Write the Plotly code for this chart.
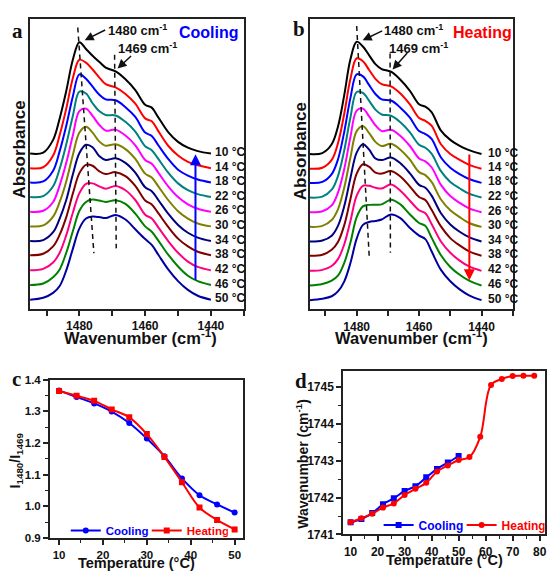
import plotly.graph_objects as go

FIG_W, FIG_H = 549, 573
FONT = "Liberation Sans, Arial, sans-serif"
SERIF = "Liberation Serif, Times New Roman, serif"


def px(x):
    return x / FIG_W


def py(y):
    return 1 - y / FIG_H


# ---------------- data: spectra (heights above each curve's own baseline) ----------------
wavenumber = [1495, 1491, 1488, 1486, 1484, 1482, 1480, 1478, 1476, 1474, 1472, 1469,
              1466, 1463, 1460, 1458, 1456, 1453, 1450, 1447, 1444, 1440]
spec_temps = [10, 14, 18, 22, 26, 30, 34, 38, 42, 46, 50]
spec_offsets = [159, 144, 129.5, 114.5, 99.5, 84.5, 69.5, 55, 39.5, 24.5, 9.5]
spec_colors = ["#000000", "#FF0000", "#0000FF", "#008080", "#FF00FF", "#808000",
               "#000080", "#800000", "#FF0080", "#008000", "#0000A0"]

# panel a (cooling)
cool_10 = [0, 1, 14, 36, 64, 96, 114, 107, 100, 94, 88, 84, 76, 65, 50, 47, 37, 22, 12, 6, 2.5, 0]
cool_14 = [0, 1, 13, 34, 61, 92, 111, 108, 101, 93, 86, 82.7, 76, 66, 51, 48, 38, 23, 13, 6.5, 3, 0]
cool_18 = [0, 1, 12, 32, 58, 88, 110.5, 106, 98, 90, 85, 84, 77, 67, 51, 47.5, 38, 24, 13, 7, 3, 0]
cool_22 = [0, 1, 11, 29, 54, 83, 108, 106, 96, 88, 84, 83.5, 77, 67, 52, 48, 39, 25, 14, 7, 3, 0]
cool_26 = [0, 1, 10, 27, 50, 78, 103, 105.5, 98, 89, 83, 84, 78, 68, 53, 49, 40, 26, 15, 7.5, 3, 0]
cool_30 = [0, 1, 10, 25, 46, 73, 96, 102, 96, 87, 82.5, 84, 79, 69, 54, 50, 41, 27, 15.5, 8, 3, 0]
cool_34 = [0, 1, 9, 23, 42, 68, 90, 98.5, 96, 87, 83, 84.7, 80, 70, 55, 51, 42, 28, 16.5, 8.5, 3.5, 0]
cool_38 = [0, 1.5, 9, 21, 39, 63, 84, 92.5, 91.5, 86, 83, 85, 81, 71, 56, 52, 43, 29, 17, 9, 3.5, 0]
cool_42 = [0, 1.5, 8, 18, 36, 59, 79, 88.5, 89, 86, 83.5, 86.4, 82, 72, 57, 53, 44, 30, 18, 9, 3.5, 0]
cool_46 = [0, 1.5, 8, 16, 33, 55, 76, 85, 87.4, 86.5, 85, 86.7, 83, 73, 60, 54.5, 45.5, 31, 19, 9.5, 4, 0]
cool_50 = [0, 2, 7, 14, 30, 52, 73, 83, 85, 84.5, 83.5, 86.7, 82, 72, 62, 56, 46, 31, 19, 10, 4, 0]

# panel b (heating)
heat_10 = [0, 1, 10, 28, 60, 97, 115, 110, 101, 92, 87, 84.3, 76, 65, 51, 48.5, 43, 24, 14.5, 8.5, 4, 0]
heat_14 = [0, 1, 9, 26, 56, 92, 113, 110, 101, 92, 86.5, 84.3, 77, 66, 52, 49, 44, 25, 15, 9, 4, 0]
heat_18 = [0, 1, 9, 24, 52, 87, 111, 109, 100, 91, 85.5, 84.3, 77, 67, 53, 50, 45, 26, 15.5, 9, 4, 0]
heat_22 = [0, 1, 8, 22, 48, 82, 108, 107, 99, 90, 85, 83.7, 77, 67, 54, 51, 45, 27, 16, 9.5, 4, 0]
heat_26 = [0, 1, 7, 20, 44, 77, 104, 106, 98, 89, 83, 84.3, 78, 68, 55, 52, 46, 28, 16.5, 9.5, 4, 0]
heat_30 = [0, 1, 7, 18, 40, 71, 98, 103, 96, 87, 82.7, 85, 79, 69, 56, 53, 46, 28, 17, 10, 4, 0]
heat_34 = [0, 1, 6, 16, 36, 65, 91, 99.5, 94, 85, 83.3, 86, 80, 70, 58, 55, 47, 29, 17.5, 10, 4.5, 0]
heat_38 = [0, 1, 6, 14, 31, 58, 84, 93.5, 91, 85, 84, 86.7, 81, 71, 60, 57, 47, 30, 18, 10.5, 4.5, 0]
heat_42 = [0, 1, 5, 12, 27, 51, 77, 87, 87, 85, 84.3, 88.3, 82, 72, 62, 59, 48, 30, 18.5, 10.5, 4.5, 0]
heat_46 = [0, 1.5, 5, 10, 23, 44, 70, 81, 82.5, 82.7, 83, 87.7, 83, 73, 64, 61, 49, 31, 19, 11, 5, 0]
heat_50 = [0, 1.5, 4, 9, 19, 38, 63, 77, 80, 81, 82.5, 87.7, 84, 74, 66, 62.5, 50, 31, 19.3, 11, 5, 0]

cooling_spectra = [cool_10, cool_14, cool_18, cool_22, cool_26, cool_30,
                   cool_34, cool_38, cool_42, cool_46, cool_50]
heating_spectra = [heat_10, heat_14, heat_18, heat_22, heat_26, heat_30,
                   heat_34, heat_38, heat_42, heat_46, heat_50]

# guide lines (wavenumber, height)
guide_a_1480_x = [1480.5, 1475.6]
guide_a_1480_y = [288, 57]
guide_a_1469_x = [1469.3, 1468.8]
guide_a_1469_y = [260, 62]
guide_b_1480_x = [1480.0, 1476.0]
guide_b_1480_y = [290, 55]
guide_b_1469_x = [1469.3, 1469.2]
guide_b_1469_y = [262, 58]

# ---------------- data: panel c ----------------
temp_c = [10, 14, 18, 22, 26, 30, 34, 38, 42, 46, 50]
ratio_cooling = [1.366, 1.345, 1.325, 1.299, 1.263, 1.214, 1.158, 1.088, 1.035, 1.006, 0.980]
ratio_heating = [1.364, 1.349, 1.333, 1.306, 1.281, 1.228, 1.156, 1.076, 0.996, 0.957, 0.927]

# ---------------- data: panel d ----------------
temp_d_cooling = [10, 14, 18, 22, 26, 30, 34, 38, 42, 46, 50]
wn_cooling = [1741.33, 1741.42, 1741.58, 1741.82, 1741.98, 1742.18, 1742.31, 1742.55,
              1742.78, 1742.95, 1743.13]
temp_d_heating = [10, 14, 18, 22, 26, 30, 34, 38, 42, 46, 50, 54, 58, 62, 66, 70, 74, 78]
wn_heating = [1741.33, 1741.44, 1741.56, 1741.73, 1741.84, 1742.07, 1742.24, 1742.40,
              1742.71, 1742.87, 1743.02, 1743.10, 1743.65, 1745.06, 1745.22, 1745.30,
              1745.31, 1745.31]

fig = go.Figure()

# spectra
for xa, ya, spectra in (("x", "y", cooling_spectra), ("x2", "y2", heating_spectra)):
    for t, off, col, h in zip(spec_temps, spec_offsets, spec_colors, spectra):
        fig.add_trace(go.Scatter(
            x=wavenumber, y=[off + v for v in h], mode="lines",
            line=dict(color=col, width=2, shape="spline", smoothing=1.0),
            xaxis=xa, yaxis=ya, showlegend=False, hoverinfo="skip"))

for xa, ya, gx, gy in (("x", "y", guide_a_1480_x, guide_a_1480_y),
                       ("x", "y", guide_a_1469_x, guide_a_1469_y),
                       ("x2", "y2", guide_b_1480_x, guide_b_1480_y),
                       ("x2", "y2", guide_b_1469_x, guide_b_1469_y)):
    fig.add_trace(go.Scatter(x=gx, y=gy, mode="lines",
                             line=dict(color="#111111", width=1.5, dash="5px,4px"),
                             xaxis=xa, yaxis=ya, showlegend=False, hoverinfo="skip"))

# panel c
fig.add_trace(go.Scatter(
    x=temp_c, y=ratio_cooling, mode="lines+markers",
    name="<span style='color:#0000FF'>Cooling</span>",
    line=dict(color="#0000FF", width=2, shape="spline"),
    marker=dict(symbol="circle", size=6, color="#0000FF"),
    xaxis="x3", yaxis="y3", legend="legend"))
fig.add_trace(go.Scatter(
    x=temp_c, y=ratio_heating, mode="lines+markers",
    name="<span style='color:#FF0000'>Heating</span>",
    line=dict(color="#FF0000", width=2, shape="spline"),
    marker=dict(symbol="square", size=6, color="#FF0000"),
    xaxis="x3", yaxis="y3", legend="legend"))

# panel d
fig.add_trace(go.Scatter(
    x=temp_d_cooling, y=wn_cooling, mode="lines+markers",
    name="<span style='color:#0000FF'>Cooling</span>",
    line=dict(color="#0000FF", width=2, shape="spline"),
    marker=dict(symbol="square", size=6, color="#0000FF"),
    xaxis="x4", yaxis="y4", legend="legend2"))
fig.add_trace(go.Scatter(
    x=temp_d_heating, y=wn_heating, mode="lines+markers",
    name="<span style='color:#FF0000'>Heating</span>",
    line=dict(color="#FF0000", width=2, shape="spline"),
    marker=dict(symbol="circle", size=6, color="#FF0000"),
    xaxis="x4", yaxis="y4", legend="legend2"))

LINE = dict(showline=True, linecolor="#222222", linewidth=1.5, mirror=True,
            showgrid=False, zeroline=False)
TICKF = dict(family=FONT, size=12, color="#111111", weight="bold")
TICKF_C = dict(family=FONT, size=11.5, color="#111111", weight="bold")
MINOR = dict(ticks="outside", ticklen=3, tickwidth=1.2, tickcolor="#222222")

spec_tickvals = [1490, 1480, 1470, 1460, 1450, 1440, 1430]
spec_ticktext = ["", "1480", "", "1460", "", "1440", ""]

layout = dict(
    width=FIG_W, height=FIG_H, margin=dict(l=0, r=0, t=0, b=0),
    paper_bgcolor="white", plot_bgcolor="white",
    font=dict(family=FONT, color="#111111"),
    xaxis=dict(domain=[px(30.2), px(244.7)], range=[1495, 1430], anchor="y",
               tickmode="array", tickvals=spec_tickvals, ticktext=spec_ticktext,
               ticks="outside", ticklen=5, tickwidth=1.5, tickcolor="#222222",
               tickfont=TICKF, **LINE),
    yaxis=dict(domain=[py(310), py(13.3)], range=[0, 296.7], anchor="x",
               showticklabels=False, ticks="", **LINE),
    xaxis2=dict(domain=[px(311), px(514.6)], range=[1495, 1430], anchor="y2",
                tickmode="array", tickvals=spec_tickvals, ticktext=spec_ticktext,
                ticks="outside", ticklen=5, tickwidth=1.5, tickcolor="#222222",
                tickfont=TICKF, **LINE),
    yaxis2=dict(domain=[py(310.5), py(13.3)], range=[0, 297.2], anchor="x2",
                showticklabels=False, ticks="", **LINE),
    xaxis3=dict(domain=[px(50), px(244.3)], range=[7.9, 52], anchor="y3",
                tickmode="linear", tick0=10, dtick=10,
                ticks="outside", ticklen=5, tickwidth=1.5, tickcolor="#222222",
                minor=dict(dtick=5, tick0=10, **MINOR),
                tickfont=TICKF_C, **LINE),
    yaxis3=dict(domain=[py(544.3), py(382.3)], range=[0.9, 1.4], anchor="x3",
                tickmode="linear", tick0=0.9, dtick=0.1, tickformat=".1f",
                ticks="outside", ticklen=5, tickwidth=1.5, tickcolor="#222222",
                minor=dict(dtick=0.05, tick0=0.9, **MINOR),
                tickfont=TICKF_C, **LINE),
    xaxis4=dict(domain=[px(344.3), px(546.5)], range=[7.2, 81.8], anchor="y4",
                tickmode="linear", tick0=10, dtick=10,
                ticks="outside", ticklen=5, tickwidth=1.5, tickcolor="#222222",
                minor=dict(dtick=5, tick0=10, **MINOR),
                tickfont=TICKF, **LINE),
    yaxis4=dict(domain=[py(540.7), py(373)], range=[1741, 1745.45], anchor="x4",
                tickmode="linear", tick0=1741, dtick=1, tickformat="d",
                ticks="outside", ticklen=5, tickwidth=1.5, tickcolor="#222222",
                minor=dict(dtick=0.5, tick0=1741, **MINOR),
                tickfont=TICKF, **LINE),
    legend=dict(x=px(66), y=py(536.7), xanchor="left", yanchor="middle",
                orientation="h", bgcolor="rgba(0,0,0,0)", itemwidth=30,
                entrywidth=36, entrywidthmode="pixels",
                font=dict(family=FONT, size=11.5, weight="bold"), tracegroupgap=0),
    legend2=dict(x=px(380), y=py(531), xanchor="left", yanchor="middle",
                 orientation="h", bgcolor="rgba(0,0,0,0)", itemwidth=30,
                 entrywidth=38, entrywidthmode="pixels",
                 font=dict(family=FONT, size=12, weight="bold"), tracegroupgap=0),
)
fig.update_layout(**layout)

ann = []


def text_ann(x, y, text, size, color="#111111", angle=0, family=FONT, xanchor="center"):
    ann.append(dict(x=px(x), y=py(y), xref="paper", yref="paper", text=text,
                    showarrow=False, textangle=angle, xanchor=xanchor, yanchor="middle",
                    font=dict(family=family, size=size, color=color)))


# panel letters
text_ann(17.7, 25.3, "<b>a</b>", 21, family=SERIF)
text_ann(300, 23.5, "<b>b</b>", 21, family=SERIF)
text_ann(16.7, 382, "<b>c</b>", 21, family=SERIF)
text_ann(301.7, 383.3, "<b>d</b>", 21, family=SERIF)

# axis titles
text_ann(20, 147, "<b>Absorbance</b>", 17, angle=-90)
text_ann(301.7, 149, "<b>Absorbance</b>", 17, angle=-90)
text_ann(141, 339, "<b>Wavenumber (cm<sup>-1</sup>)</b>", 16.5)
text_ann(413, 339, "<b>Wavenumber (cm<sup>-1</sup>)</b>", 16.5)
text_ann(17, 465, "<b>I<sub>1480</sub>/I<sub>1469</sub></b>", 14, angle=-90)
text_ann(137, 570, "<b>Temperature (\u00b0C)</b>", 14.5)
text_ann(303.5, 468, "<b>Wavenumber (cm<sup>-1</sup>)</b>", 14, angle=-90)
text_ann(446.5, 567, "<b>Temperature (\u00b0C)</b>", 14.5)

# peak labels and process labels
text_ann(138, 25, "<b>1480 cm<sup>-1</sup></b>", 13)
text_ann(148, 43, "<b>1469 cm<sup>-1</sup></b>", 13)
text_ann(210, 27, "<b>Cooling</b>", 16, color="#0000FF")
text_ann(415, 25, "<b>1480 cm<sup>-1</sup></b>", 13)
text_ann(420.5, 43, "<b>1469 cm<sup>-1</sup></b>", 13)
text_ann(484, 27, "<b>Heating</b>", 16, color="#FF0000")

# pointer arrows
for hx, hy, tx, ty in ((85, 35, 107, 24), (118, 64, 133, 50),
                       (364, 35, 385, 25), (394, 65, 410, 47)):
    ann.append(dict(x=px(hx), y=py(hy), xref="paper", yref="paper", text="",
                    showarrow=True, ax=tx - hx, ay=ty - hy, axref="pixel", ayref="pixel",
                    arrowhead=2, arrowsize=1.2, arrowwidth=1.5, arrowcolor="#111111"))

# temperature labels
for t, off in zip(spec_temps, spec_offsets):
    ann.append(dict(x=px(214), y=off + 1.5, xref="paper", yref="y",
                    text=f"<b>{t} \u00b0C</b>", showarrow=False, xanchor="left",
                    yanchor="middle", font=dict(family=FONT, size=12, color="#111111")))
    ann.append(dict(x=px(487.3), y=off + 1.5, xref="paper", yref="y2",
                    text=f"<b>{t} \u00b0C</b>", showarrow=False, xanchor="left",
                    yanchor="middle", font=dict(family=FONT, size=12, color="#111111")))

# process arrows
ann.append(dict(x=1444.7, y=158.3, xref="x", yref="y", ax=1444.7, ay=28.3,
                axref="x", ayref="y", text="", showarrow=True, arrowhead=2,
                arrowsize=1.1, arrowwidth=2, arrowcolor="#0000FF"))
ann.append(dict(x=1443.9, y=30, xref="x2", yref="y2", ax=1443.9, ay=160,
                axref="x2", ayref="y2", text="", showarrow=True, arrowhead=2,
                arrowsize=1.1, arrowwidth=2, arrowcolor="#FF0000"))

fig.update_layout(annotations=ann)
fig.write_html("out.html", config={"displayModeBar": False},
               post_script="document.body.style.margin='0px';")
